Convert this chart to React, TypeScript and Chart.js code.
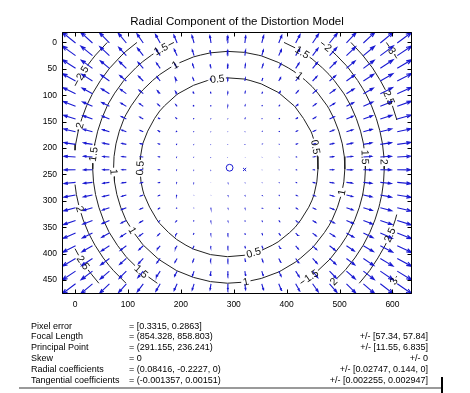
import React, { useEffect, useRef } from "react";
import { Chart, registerables } from "chart.js";

Chart.register(...registerables);

// ---------------- Data (camera calibration results) ----------------
const chartTitle = "Radial Component of the Distortion Model";
const imageSize = [640, 480];
const gridCount = [20, 20];
const focalLength = [854.328, 858.803];
const principalPoint = [291.155, 236.241];
const radialCoeffs = [0.08416, -0.2227, 0];
const contourLevels = [0.5, 1, 1.5, 2, 2.5, 3];
const xTickValues = [0, 100, 200, 300, 400, 500, 600];
const yTickValues = [0, 50, 100, 150, 200, 250, 300, 350, 400, 450];

// approximate places of the inline contour labels
const labelLevels = [2.5, 1.5, 0.5, 1, 2, 1.5, 0.5, 1, 2, 1, 2.5, 1.5, 1, 0.5, 1.5, 2, 3, 2.5, 1, 0.5, 1.5, 2, 2.5, 1, 1.5, 2, 3];
const labelXs = [11, 161, 269, 189, 8, 30, 127, 77, 11, 108, 17, 124, 323, 338, 446, 490, 600, 590, 499, 455, 553, 584, 597, 424, 430, 478, 600];
const labelYs = [56, 10, 70, 42, 157, 211, 238, 245, 315, 356, 416, 435, 454, 400, 441, 454, 451, 362, 283, 198, 217, 226, 103, 63, 18, 11, 15];

const infoNames = ["Pixel error", "Focal Length", "Principal Point", "Skew", "Radial coefficients", "Tangential coefficients"];
const infoValues = ["= [0.3315, 0.2863]", "= (854.328, 858.803)", "= (291.155, 236.241)", "= 0", "= (0.08416, -0.2227, 0)", "= (-0.001357, 0.00151)"];
const infoErrors = ["", "+/- [57.34, 57.84]", "+/- [11.55, 6.835]", "+/- 0", "+/- [0.02747, 0.144, 0]", "+/- [0.002255, 0.002947]"];

// ---------------- Layout / style constants ----------------
const W = 470;
const H = 393;
const PLOT_LEFT = 62;
const PLOT_TOP = 32;
const PLOT_RIGHT = 412;
const PLOT_BOTTOM = 294;
const XAXIS_H = 20;
const YAXIS_W = 30;
const ARROW_COLOR = "#1a1ad2";
const FONT_FAMILY = '"Liberation Sans", Arial, Helvetica, sans-serif';
const LABEL_FONT = `10.5px ${FONT_FAMILY}`;

// ---------------- Model ----------------
function radialShift(px: number, py: number): [number, number] {
  const xn = (px - principalPoint[0]) / focalLength[0];
  const yn = (py - principalPoint[1]) / focalLength[1];
  const r2 = xn * xn + yn * yn;
  const f = radialCoeffs[0] * r2 + radialCoeffs[1] * r2 * r2 + radialCoeffs[2] * r2 * r2 * r2;
  return [focalLength[0] * xn * f, focalLength[1] * yn * f];
}

const gridX = Array.from({ length: gridCount[0] }, (_, i) => (i * imageSize[0]) / gridCount[0]);
const gridY = Array.from({ length: gridCount[1] }, (_, j) => (j * imageSize[1]) / gridCount[1]);

const gap = () => ({ x: NaN, y: NaN });

function buildQuiver() {
  const pts: any[] = [];
  for (const y of gridY) {
    for (const x of gridX) {
      const [u, v] = radialShift(x, y);
      pts.push({ x: x + 1, y: y + 1, u, v });
    }
  }
  const n = Math.sqrt(pts.length);
  const xs = pts.map((p) => p.x);
  const ys = pts.map((p) => p.y);
  const delx = (Math.max(...xs) - Math.min(...xs)) / n;
  const dely = (Math.max(...ys) - Math.min(...ys)) / n;
  const lens = pts.map((p) => Math.sqrt((p.u * p.u + p.v * p.v) / (delx * delx + dely * dely)));
  const s = 0.9 / Math.max(...lens);
  const alpha = 0.33;
  const beta = 0.33;
  const eps = 2.2e-16;
  const path: any[] = [];
  let xMin = Infinity, xMax = -Infinity, yMin = Infinity, yMax = -Infinity;
  const acc = (p: any) => {
    xMin = Math.min(xMin, p.x); xMax = Math.max(xMax, p.x);
    yMin = Math.min(yMin, p.y); yMax = Math.max(yMax, p.y);
    return p;
  };
  for (const p of pts) {
    const u = p.u * s;
    const v = p.v * s;
    const tip = { x: p.x + u, y: p.y + v };
    path.push(acc({ x: p.x, y: p.y }), acc({ ...tip }), gap());
    path.push(
      acc({ x: p.x + u - alpha * (u + beta * (v + eps)), y: p.y + v - alpha * (v - beta * (u + eps)) }),
      acc({ ...tip }),
      acc({ x: p.x + u - alpha * (u - beta * (v + eps)), y: p.y + v - alpha * (v + beta * (u + eps)) }),
      gap()
    );
  }
  return { path, xMin, xMax, yMin, yMax };
}

function buildContourSegments() {
  const dr = gridY.map((y) => gridX.map((x) => {
    const [u, v] = radialShift(x, y);
    return Math.hypot(u, v);
  }));
  const out: number[][][] = contourLevels.map(() => []);
  contourLevels.forEach((level, li) => {
    for (let j = 0; j < gridY.length - 1; j++) {
      for (let i = 0; i < gridX.length - 1; i++) {
        const c = [
          [gridX[i], gridY[j], dr[j][i]],
          [gridX[i + 1], gridY[j], dr[j][i + 1]],
          [gridX[i + 1], gridY[j + 1], dr[j + 1][i + 1]],
          [gridX[i], gridY[j + 1], dr[j + 1][i]],
        ];
        const cross: number[][] = [];
        for (let e = 0; e < 4; e++) {
          const a = c[e];
          const b = c[(e + 1) % 4];
          if ((a[2] - level) * (b[2] - level) < 0) {
            const t = (level - a[2]) / (b[2] - a[2]);
            cross.push([a[0] + t * (b[0] - a[0]), a[1] + t * (b[1] - a[1])]);
          }
        }
        if (cross.length >= 2) out[li].push([cross[0][0], cross[0][1], cross[1][0], cross[1][1]]);
        if (cross.length === 4) out[li].push([cross[2][0], cross[2][1], cross[3][0], cross[3][1]]);
      }
    }
  });
  return out;
}

export default function App() {
  const ref = useRef<HTMLCanvasElement>(null);

  useEffect(() => {
    const canvas = ref.current as HTMLCanvasElement;
    const quiver = buildQuiver();
    const segs = buildContourSegments();
    const unitsPerPx = (quiver.xMax - quiver.xMin) / (PLOT_RIGHT - PLOT_LEFT);

    const mctx = document.createElement("canvas").getContext("2d") as CanvasRenderingContext2D;
    mctx.font = LABEL_FONT;

    const labels = labelLevels.map((lv, k) => {
      const li = contourLevels.indexOf(lv);
      const ax = labelXs[k];
      const ay = labelYs[k];
      let best: any = null;
      let bd = Infinity;
      for (const sgm of segs[li]) {
        const [x1, y1, x2, y2] = sgm;
        const dx = x2 - x1;
        const dy = y2 - y1;
        const L2 = dx * dx + dy * dy || 1;
        let t = ((ax - x1) * dx + (ay - y1) * dy) / L2;
        t = Math.max(0, Math.min(1, t));
        const px = x1 + t * dx;
        const py = y1 + t * dy;
        const d = Math.hypot(px - ax, py - ay);
        if (d < bd) { bd = d; best = { x: px, y: py, dx, dy }; }
      }
      const text = String(lv);
      const w = mctx.measureText(text).width;
      return { ...best, li, text, r: (w / 2 + 1.5) * unitsPerPx };
    });

    const contourPath: any[] = [];
    segs.forEach((list, li) => {
      const own = labels.filter((L) => L.li === li);
      for (const [x1, y1, x2, y2] of list) {
        const len = Math.hypot(x2 - x1, y2 - y1);
        const m = Math.max(1, Math.ceil(len / 1.5));
        let ts: number | null = null;
        let te = 0;
        const flush = () => {
          if (ts !== null) {
            contourPath.push(
              { x: x1 + ts * (x2 - x1), y: y1 + ts * (y2 - y1) },
              { x: x1 + te * (x2 - x1), y: y1 + te * (y2 - y1) },
              gap()
            );
          }
          ts = null;
        };
        for (let s = 0; s < m; s++) {
          const t0 = s / m;
          const t1 = (s + 1) / m;
          const tm = (t0 + t1) / 2;
          const mx = x1 + tm * (x2 - x1);
          const my = y1 + tm * (y2 - y1);
          const hidden = own.some((L) => Math.hypot(mx - L.x, my - L.y) < L.r);
          if (!hidden) { if (ts === null) ts = t0; te = t1; } else flush();
        }
        flush();
      }
    });

    const overlay = {
      id: "matlabOverlay",
      afterDatasetsDraw(chart: any) {
        const { ctx, chartArea, scales } = chart;
        const xs = scales.x;
        const ys = scales.y;
        ctx.save();
        // contour labels
        ctx.font = LABEL_FONT;
        ctx.fillStyle = "#111";
        ctx.textAlign = "center";
        ctx.textBaseline = "middle";
        for (const L of labels) {
          const p0x = xs.getPixelForValue(L.x);
          const p0y = ys.getPixelForValue(L.y);
          const p1x = xs.getPixelForValue(L.x + L.dx);
          const p1y = ys.getPixelForValue(L.y + L.dy);
          let th = Math.atan2(p1y - p0y, p1x - p0x);
          if (th >= Math.PI / 2 - 1e-6) th -= Math.PI;
          if (th < -Math.PI / 2 - 1e-6) th += Math.PI;
          ctx.save();
          ctx.translate(p0x, p0y);
          ctx.rotate(th);
          ctx.fillText(L.text, 0, 0.5);
          ctx.restore();
        }
        // axes box
        const l = Math.round(chartArea.left) + 0.5;
        const t = Math.round(chartArea.top) + 0.5;
        const r = Math.round(chartArea.right) - 0.5;
        const b = Math.round(chartArea.bottom) - 0.5;
        ctx.strokeStyle = "#000";
        ctx.lineWidth = 1;
        ctx.beginPath();
        ctx.rect(l, t, r - l, b - t);
        for (const v of xTickValues) {
          const px = Math.round(xs.getPixelForValue(v)) + 0.5;
          ctx.moveTo(px, b); ctx.lineTo(px, b - 4);
          ctx.moveTo(px, t); ctx.lineTo(px, t + 4);
        }
        for (const v of yTickValues) {
          const py = Math.round(ys.getPixelForValue(v)) + 0.5;
          ctx.moveTo(l, py); ctx.lineTo(l + 4, py);
          ctx.moveTo(r, py); ctx.lineTo(r - 4, py);
        }
        ctx.stroke();
        ctx.restore();
      },
    };

    const tickFont = { family: FONT_FAMILY, size: 8.5 };

    const chart = new Chart(canvas, {
      type: "scatter",
      data: {
        datasets: [
          {
            label: "radial distortion",
            data: quiver.path,
            showLine: true,
            borderColor: ARROW_COLOR,
            borderWidth: 1.1,
            pointRadius: 0,
            pointHoverRadius: 0,
            spanGaps: false,
            tension: 0,
          },
          {
            label: "contours",
            data: contourPath,
            showLine: true,
            borderColor: "#222",
            borderWidth: 1,
            pointRadius: 0,
            pointHoverRadius: 0,
            spanGaps: false,
            tension: 0,
          },
          {
            label: "principal point",
            data: [{ x: principalPoint[0] + 1, y: principalPoint[1] + 1 }],
            pointStyle: "circle",
            pointRadius: 3.4,
            borderColor: ARROW_COLOR,
            backgroundColor: "rgba(0,0,0,0)",
            borderWidth: 1,
          },
          {
            label: "image center",
            data: [{ x: (imageSize[0] - 1) / 2 + 1, y: (imageSize[1] - 1) / 2 + 1 }],
            pointStyle: "crossRot",
            pointRadius: 2.2,
            borderColor: ARROW_COLOR,
            borderWidth: 1,
          },
        ],
      } as any,
      options: {
        animation: false,
        responsive: false,
        maintainAspectRatio: false,
        devicePixelRatio: 1,
        events: [],
        layout: {
          padding: {
            left: PLOT_LEFT - YAXIS_W,
            right: W - PLOT_RIGHT,
            top: PLOT_TOP,
            bottom: H - PLOT_BOTTOM - XAXIS_H,
          },
        },
        plugins: {
          legend: { display: false },
          tooltip: { enabled: false },
          title: { display: false },
        },
        scales: {
          x: {
            type: "linear",
            position: "bottom",
            min: quiver.xMin,
            max: quiver.xMax,
            afterBuildTicks: (s: any) => { s.ticks = xTickValues.map((v) => ({ value: v })); },
            afterFit: (s: any) => { s.height = XAXIS_H; },
            grid: { display: false, drawTicks: false },
            border: { display: false },
            ticks: { font: tickFont, color: "#000", padding: 6, maxRotation: 0, autoSkip: false },
          },
          y: {
            type: "linear",
            position: "left",
            reverse: true,
            min: quiver.yMin,
            max: quiver.yMax,
            afterBuildTicks: (s: any) => { s.ticks = yTickValues.map((v) => ({ value: v })); },
            afterFit: (s: any) => { s.width = YAXIS_W; },
            grid: { display: false, drawTicks: false },
            border: { display: false },
            ticks: { font: tickFont, color: "#000", padding: 5, autoSkip: false },
          },
        },
      } as any,
      plugins: [overlay],
    });
    return () => chart.destroy();
  }, []);

  const INFO_TOP = 320.5;
  const INFO_LH = 10.8;
  const infoFont = `9px ${FONT_FAMILY}`;

  return (
    <div style={{ position: "absolute", left: 0, top: 0, width: W, height: H, background: "#fff", overflow: "hidden" }}>
      <canvas ref={ref} width={W} height={H} style={{ position: "absolute", left: 0, top: 0, width: W, height: H }} />
      <div
        style={{
          position: "absolute",
          left: 0,
          top: 14.5,
          width: (PLOT_LEFT + PLOT_RIGHT),
          textAlign: "center",
          font: `11.5px ${FONT_FAMILY}`,
          color: "#000",
          whiteSpace: "pre",
        }}
      >
        {chartTitle}
      </div>
      {infoNames.map((name, i) => (
        <div
          key={i}
          style={{
            position: "absolute",
            left: 0,
            top: INFO_TOP + i * INFO_LH,
            width: W,
            height: INFO_LH,
            font: infoFont,
            lineHeight: `${INFO_LH}px`,
            color: "#000",
            whiteSpace: "pre",
          }}
        >
          <span style={{ position: "absolute", left: 31 }}>{name}</span>
          <span style={{ position: "absolute", left: 129 }}>{infoValues[i]}</span>
          <span style={{ position: "absolute", right: 42 }}>{infoErrors[i]}</span>
        </div>
      ))}
      <div style={{ position: "absolute", left: 19, top: 387, width: 423, height: 2, background: "#9a9a9a" }} />
      <div style={{ position: "absolute", left: 441, top: 377, width: 2, height: 16, background: "#000" }} />
    </div>
  );
}
